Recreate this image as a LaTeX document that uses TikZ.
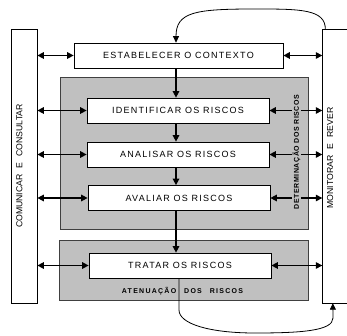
\documentclass[tikz,border=0pt]{standalone}
\usepackage{fontspec}
\setmainfont{Liberation Sans}
\newfontfamily\boxfont[LetterSpace=14]{Liberation Sans}
\newfontfamily\tagfont[LetterSpace=8]{Liberation Sans}
\newfontfamily\atenfont[LetterSpace=18]{Liberation Sans}
\usetikzlibrary{arrows.meta}
\definecolor{grpfill}{HTML}{C0C0C0}
\begin{document}
\begin{tikzpicture}[x=1pt,y=-1pt,
  procbox/.style={draw=black, fill=white, line width=0.7pt, inner sep=0pt,
    minimum height=25pt, font=\boxfont\fontsize{9}{11}\selectfont},
  grpbox/.style={draw=black!75, fill=grpfill, line width=0.7pt, inner sep=0pt},
  sidebox/.style={inner sep=0pt},
  sidetext/.style={rotate=90, inner sep=0pt, font=\fontsize{8.7}{10}\selectfont},
  arr/.style={-{Triangle[length=6.5pt,width=6.5pt]}, line width=1.4pt},
  dbl/.style={{Triangle[length=6.5pt,width=6.5pt]}-{Triangle[length=6.5pt,width=6.5pt]}, line width=1.4pt},
  curve/.style={line width=0.8pt},
  tagtext/.style={inner sep=0.6pt, fill=grpfill, font=\tagfont\bfseries\fontsize{7}{8}\selectfont}
]
\useasboundingbox (0,0) rectangle (347,336);

% side boxes
\node[sidebox, draw=black, line width=0.7pt, minimum width=26pt, minimum height=274pt] (lbox) at (24,166) {};
\node[sidebox, minimum width=24.5pt, minimum height=273pt] (rbox) at (334.75,166.5) {};
\draw[line width=0.7pt] (rbox.north east) -- (rbox.north west) -- (rbox.south west) -- (rbox.south east);
\node[sidetext] (ltext) at (19.5,166) {COMUNICAR\hspace{6pt}E\hspace{6pt}CONSULTAR};
\node[sidetext] (rtext) at (330,158) {MONITORAR\hspace{6pt}E\hspace{6pt}REVER};

% group boxes
\node[grpbox, minimum width=248pt, minimum height=152pt] (grp1) at (184,153) {};
\node[grpbox, minimum width=249pt, minimum height=59.5pt] (grp2) at (183.5,270.5) {};

% process boxes
\node[procbox, minimum width=209pt] (estab) at (178.5,55.5) {ESTABELECER O CONTEXTO};
\node[procbox, minimum width=182pt] (ident) at (178,110.5) {IDENTIFICAR OS RISCOS};
\node[procbox, minimum width=182pt] (anal) at (178,154.5) {ANALISAR OS RISCOS};
\node[procbox, minimum width=182pt] (aval) at (179,198) {AVALIAR OS RISCOS};
\node[procbox, minimum width=182pt] (trat) at (180,265.5) {TRATAR OS RISCOS};

\coordinate (vx) at (176,0);
\coordinate (cx) at (179,0);

% vertical flow
\draw[arr] (estab.south -| vx) -- (ident.north -| vx);
\draw[arr] (ident.south -| vx) -- (anal.north -| vx);
\draw[arr] (anal.south -| vx) -- (aval.north -| vx);
\draw[arr] (aval.south -| vx) -- (trat.north -| vx);

% left arrows
\foreach \n in {estab,ident,anal,aval,trat}
  \draw[dbl] (lbox.east |- \n.west) -- (\n.west);
% right arrows
\foreach \n in {estab,ident,anal,aval,trat}
  \draw[dbl] (\n.east) -- (rbox.west |- \n.east);

% labels of groups
\node[tagtext, rotate=90] (dettext) at (296.5,152) {DETERMINAÇÃO DOS RISCOS};
\node[inner sep=0pt, font=\atenfont\bfseries\fontsize{7}{8}\selectfont] (atentext) at (182.5,291)
  {ATENUAÇÃO\hspace{8pt}DOS\hspace{8pt}RISCOS};

% feedback curves
\coordinate (rtop) at ([xshift=3pt]rbox.north west);
\coordinate (rbot) at ([xshift=10.5pt]rbox.south west);
\draw[curve, -{Triangle[length=6.5pt,width=6pt]}] (rtop) .. controls (326,9) and (300,9) .. (255,9)
  .. controls (195,9) and (176,12) .. (estab.north -| vx);
\draw[curve, -{Triangle[length=6.5pt,width=6pt]}] (trat.south -| cx) -- (179,310)
  .. controls (179,324) and (210,333) .. (255,333)
  .. controls (300,333) and (333,331) .. (333,318) -- (rbot);
\end{tikzpicture}
\end{document}
